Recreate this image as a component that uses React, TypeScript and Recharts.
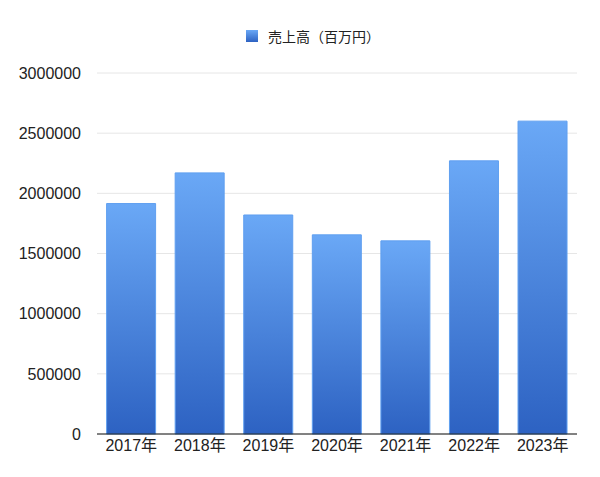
import React from 'react';
import { BarChart, Bar, CartesianGrid, XAxis, YAxis, Legend } from 'recharts';

const years = ['2017年', '2018年', '2019年', '2020年', '2021年', '2022年', '2023年'];
const sales = [1915000, 2170000, 1820000, 1655000, 1605000, 2270000, 2600000];
const yTicks = [0, 500000, 1000000, 1500000, 2000000, 2500000, 3000000];
const seriesName = '売上高（百万円）';

const data = years.map((year, i) => ({ year, sales: sales[i] }));

const font = '"Liberation Sans", "Noto Sans CJK JP", sans-serif';

function LegendBox() {
  return (
    <div style={{ display: 'flex', justifyContent: 'center', alignItems: 'center', fontFamily: font, fontSize: 14, color: '#222', height: 19, paddingLeft: 26 }}>
      <svg width={12} height={12} style={{ marginRight: 10 }}>
        <defs>
          <linearGradient id="legGrad" x1="0" y1="0" x2="0" y2="1">
            <stop offset="0%" stopColor="#6aa8f6" />
            <stop offset="100%" stopColor="#2d62c2" />
          </linearGradient>
        </defs>
        <rect x={0} y={0} width={12} height={12} fill="url(#legGrad)" />
      </svg>
      <span>{seriesName}</span>
    </div>
  );
}

export default function App() {
  return (
    <div style={{ position: 'absolute', left: 0, top: 0, background: '#fff' }}>
      <BarChart
        width={600}
        height={477}
        data={data}
        margin={{ top: 54, right: 23, bottom: 13, left: 0 }}
        barCategoryGap="14%"
      >
        <defs>
          <linearGradient id="barGrad" x1="0" y1="0" x2="0" y2="1">
            <stop offset="0%" stopColor="#6aa8f6" />
            <stop offset="100%" stopColor="#2d62c2" />
          </linearGradient>
        </defs>
        <CartesianGrid vertical={false} stroke="#e6e6e6" />
        <XAxis
          dataKey="year"
          axisLine={{ stroke: '#111' }}
          tickLine={false}
          tickSize={0}
          tickMargin={6}
          tick={{ fill: '#222', fontSize: 16, fontFamily: font }}
        />
        <YAxis
          width={97}
          domain={[0, 3000000]}
          ticks={yTicks}
          axisLine={false}
          tickLine={false}
          tickSize={0}
          tickMargin={16}
          tick={{ fill: '#222', fontSize: 16, fontFamily: font }}
        />
        <Legend
          verticalAlign="top"
          content={() => <LegendBox />}
          wrapperStyle={{ position: 'absolute', top: 26, left: 0, width: 600 }}
        />
        <Bar dataKey="sales" name={seriesName} fill="url(#barGrad)" stroke="#5f9ff0" strokeWidth={1} isAnimationActive={false} />
      </BarChart>
    </div>
  );
}
